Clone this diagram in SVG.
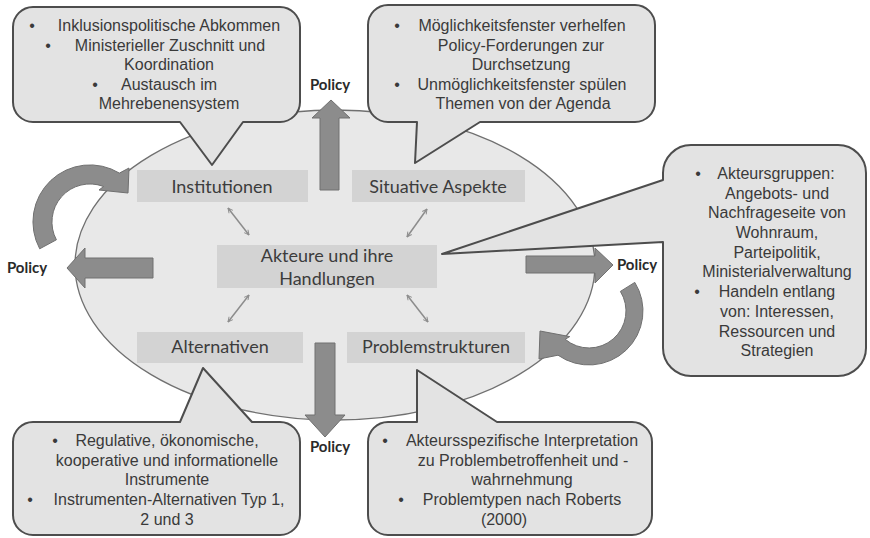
<svg xmlns="http://www.w3.org/2000/svg" width="870" height="538" viewBox="0 0 870 538">
<defs>
<marker id="dh" viewBox="0 0 10 10" refX="9" refY="5" markerWidth="6" markerHeight="6" orient="auto-start-reverse" markerUnits="userSpaceOnUse">
<path d="M1,1 L9,5 L1,9" fill="none" stroke="#8c8c8c" stroke-width="1.6"/>
</marker>
<style>
.ell{fill:#e8e8e8;stroke:#707070;stroke-width:1.3}
.box{fill:#d3d3d3}
.lbl{font-family:Lato,"Open Sans",sans-serif;font-size:18px;fill:#3c3c3c;text-anchor:middle}
.pol{font-family:Lato,"Open Sans",sans-serif;font-size:15px;font-weight:bold;fill:#2a2a2a;text-anchor:middle}
.call{fill:#e3e3e3;stroke:#4d4d4d;stroke-width:2;stroke-linejoin:round}
.ct{font-family:"Liberation Sans",Arial,sans-serif;font-size:16px;fill:#3a3a3a;text-anchor:middle}
.blk{fill:#8c8c8c;stroke:#707070;stroke-width:1}
.dbl{stroke:#8c8c8c;stroke-width:1.5;fill:none;marker-start:url(#dh);marker-end:url(#dh)}
</style>
</defs>
<rect width="870" height="538" fill="#ffffff"/>

<g id="ellipse">
<ellipse class="ell" cx="335" cy="265" rx="260" ry="155"/>
</g>

<g id="institutionen">
<rect class="box" x="137" y="170" width="171" height="32"/>
<text class="lbl" x="222" y="193">Institutionen</text>
</g>
<g id="situative-aspekte">
<rect class="box" x="352" y="170" width="173" height="32"/>
<text class="lbl" x="438" y="193">Situative Aspekte</text>
</g>
<g id="akteure">
<rect class="box" x="217" y="245" width="220" height="43"/>
<text class="lbl" x="327" y="262">Akteure und ihre</text>
<text class="lbl" x="327" y="285">Handlungen</text>
</g>
<g id="alternativen">
<rect class="box" x="137" y="332" width="166" height="31"/>
<text class="lbl" x="220" y="353">Alternativen</text>
</g>
<g id="problemstrukturen">
<rect class="box" x="347" y="332" width="178" height="31"/>
<text class="lbl" x="436" y="353">Problemstrukturen</text>
</g>

<g id="connectors">
<line class="dbl" x1="228" y1="208" x2="249" y2="235"/>
<line class="dbl" x1="427" y1="209" x2="407" y2="237"/>
<line class="dbl" x1="249" y1="295" x2="228" y2="322"/>
<line class="dbl" x1="407" y1="295" x2="428" y2="322"/>
<path class="blk" d="M39.7,248.8 A57,57 0 0 1 119.4,173.1 L129,168 L128,193 L99,190 L103.6,186.5 A38,38 0 0 0 56.4,239.8 Z"/>
<path class="blk" d="M634.8,282.4 A54,54 0 0 1 558,355.2 L539,359 L540,331 L569.7,336.6 L565.2,339.3 A37,37 0 0 0 620.4,291.4 Z"/>
</g>

<g id="callout-institutionen">
<path class="call" d="M33,7 H280 A20,20 0 0 1 300,27 V102 A20,20 0 0 1 280,122 H243 L212,165 L180,122 H33 A20,20 0 0 1 13,102 V27 A20,20 0 0 1 33,7 Z"/>
<text class="ct" x="32" y="31">•</text>
<text class="ct" x="169" y="31">Inklusionspolitische Abkommen</text>
<text class="ct" x="48" y="51">•</text>
<text class="ct" x="170" y="51">Ministerieller Zuschnitt und</text>
<text class="ct" x="169" y="70">Koordination</text>
<text class="ct" x="95" y="90">•</text>
<text class="ct" x="169" y="90">Austausch im</text>
<text class="ct" x="169" y="109">Mehrebenensystem</text>
</g>

<g id="callout-situative">
<path class="call" d="M388,5 H635 A20,20 0 0 1 655,25 V102 A20,20 0 0 1 635,122 H480 L415,163 L417,122 H388 A20,20 0 0 1 368,102 V25 A20,20 0 0 1 388,5 Z"/>
<text class="ct" x="397" y="31">•</text>
<text class="ct" x="522" y="31">Möglichkeitsfenster verhelfen</text>
<text class="ct" x="521" y="51">Policy-Forderungen zur</text>
<text class="ct" x="521" y="70">Durchsetzung</text>
<text class="ct" x="397" y="90">•</text>
<text class="ct" x="522" y="90">Unmöglichkeitsfenster spülen</text>
<text class="ct" x="523" y="109">Themen von der Agenda</text>
</g>

<g id="callout-akteure">
<path class="call" d="M691,145 H838 A28,28 0 0 1 866,173 V348 A28,28 0 0 1 838,376 H691 A28,28 0 0 1 663,348 V242 L442,254 L663,180 V173 A28,28 0 0 1 691,145 Z"/>
<text class="ct" x="698" y="179">•</text>
<text class="ct" x="776" y="179">Akteursgruppen:</text>
<text class="ct" x="777" y="199">Angebots- und</text>
<text class="ct" x="777" y="218">Nachfrageseite von</text>
<text class="ct" x="777" y="238">Wohnraum,</text>
<text class="ct" x="777" y="258">Parteipolitik,</text>
<text class="ct" x="777" y="277">Ministerialverwaltung</text>
<text class="ct" x="697" y="297">•</text>
<text class="ct" x="777" y="297">Handeln entlang</text>
<text class="ct" x="777" y="317">von: Interessen,</text>
<text class="ct" x="777" y="337">Ressourcen und</text>
<text class="ct" x="777" y="356">Strategien</text>
</g>

<g id="callout-alternativen">
<path class="call" d="M33,422 H180 L203,368 L252,422 H280 A20,20 0 0 1 300,442 V515 A20,20 0 0 1 280,535 H33 A20,20 0 0 1 13,515 V442 A20,20 0 0 1 33,422 Z"/>
<text class="ct" x="55" y="446">•</text>
<text class="ct" x="167" y="446">Regulative, ökonomische,</text>
<text class="ct" x="167" y="466">kooperative und informationelle</text>
<text class="ct" x="167" y="485">Instrumente</text>
<text class="ct" x="30" y="505">•</text>
<text class="ct" x="169" y="505">Instrumenten-Alternativen Typ 1,</text>
<text class="ct" x="167" y="525">2 und 3</text>
</g>

<g id="callout-problemstrukturen">
<path class="call" d="M388,422 H417 L417,370 L497,422 H632 A20,20 0 0 1 652,442 V515 A20,20 0 0 1 632,535 H388 A20,20 0 0 1 368,515 V442 A20,20 0 0 1 388,422 Z"/>
<text class="ct" x="385" y="446">•</text>
<text class="ct" x="522" y="446">Akteursspezifische Interpretation</text>
<text class="ct" x="523" y="466">zu Problembetroffenheit und -</text>
<text class="ct" x="522" y="485">wahrnehmung</text>
<text class="ct" x="401" y="505">•</text>
<text class="ct" x="522" y="505">Problemtypen nach Roberts</text>
<text class="ct" x="504" y="525">(2000)</text>
</g>

<g id="policy-arrows">
<polygon class="blk" points="320,190 320,118 312,118 331,100 350,118 339,118 339,190"/>
<polygon class="blk" points="153,258 85,258 85,248 67,268 85,288 85,278 153,278"/>
<polygon class="blk" points="526,256 595,256 595,248 613,265 595,283 595,273 526,273"/>
<polygon class="blk" points="315,343 335,343 335,415 345,415 325,437 305,415 315,415"/>
</g>

<g id="policy-labels">
<text class="pol" x="330" y="90">Policy</text>
<text class="pol" x="27" y="273">Policy</text>
<text class="pol" x="637" y="270">Policy</text>
<text class="pol" x="330" y="452">Policy</text>
</g>
</svg>
